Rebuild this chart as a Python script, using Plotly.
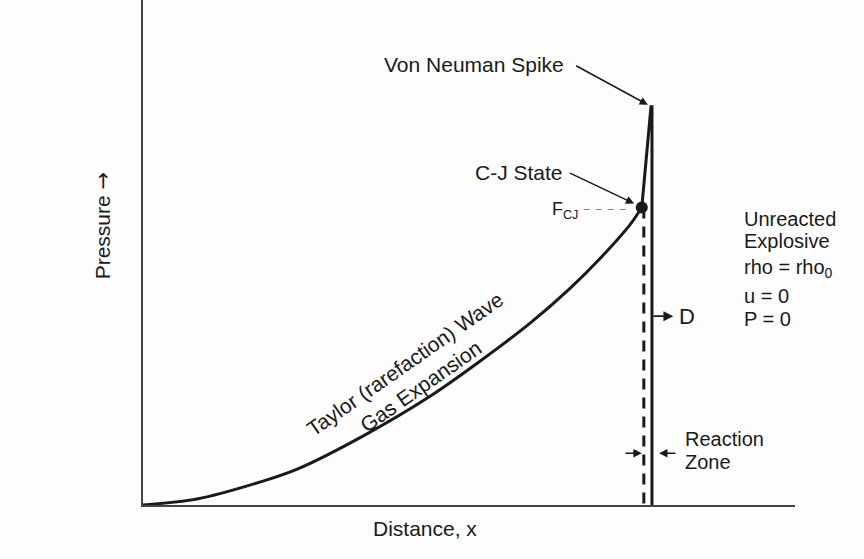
import plotly.graph_objects as go

# Taylor wave pressure profile behind the detonation front (distance, pressure)
taylor_x = [0.0, 10.6, 23.6, 30.3, 43.2, 56.4, 66.2, 76.0, 83.9, 89.8, 95.7, 98.0]
taylor_p = [0.0, 1.5, 6.0, 9.0, 17.3, 27.3, 36.1, 45.6, 54.4, 61.9, 70.4, 74.7]

# C-J state, von Neumann spike and the shock front
cj_x, cj_p = 98.0, 74.7
spike_x, spike_p = 99.8, 100.0
front_x = 100.0
reaction_end_x = 98.4

X_RANGE = [0, 128.1]
Y_RANGE = [0, 126.8]

FONT = "Liberation Sans, Arial, sans-serif"
INK = "#1a1a1a"

fig = go.Figure()

# Taylor (rarefaction) wave
fig.add_trace(go.Scatter(
    x=taylor_x, y=taylor_p, mode="lines",
    line=dict(color=INK, width=3, shape="spline", smoothing=0.8),
    hoverinfo="skip", showlegend=False))

# spike up from C-J point and the shock front back down to zero
fig.add_trace(go.Scatter(
    x=[cj_x, spike_x, front_x, front_x], y=[cj_p, spike_p, spike_p, 0],
    mode="lines", line=dict(color=INK, width=3),
    hoverinfo="skip", showlegend=False))

# end of reaction zone (dashed)
fig.add_trace(go.Scatter(
    x=[reaction_end_x, reaction_end_x], y=[cj_p, 0], mode="lines",
    line=dict(color=INK, width=3, dash="11px,8px"),
    hoverinfo="skip", showlegend=False))

# C-J state marker
fig.add_trace(go.Scatter(
    x=[cj_x], y=[cj_p], mode="markers",
    marker=dict(color=INK, size=12),
    hoverinfo="skip", showlegend=False))

# P_CJ leader line
fig.add_trace(go.Scatter(
    x=[86.6, 95.7], y=[74.2, 74.2], mode="lines",
    line=dict(color="#888888", width=1, dash="6px,6px"),
    hoverinfo="skip", showlegend=False))

ann = []


def text(x, y, s, size=21, xanchor="center", **kw):
    ann.append(dict(x=x, y=y, xref="x", yref="y", text=s, showarrow=False,
                    xanchor=xanchor, yanchor="middle",
                    font=dict(family=FONT, size=size, color=INK), **kw))


def arrow(x0, y0, x1, y1, width=1.5, size=1.1):
    ann.append(dict(x=x1, y=y1, ax=x0, ay=y0, xref="x", yref="y",
                    axref="x", ayref="y", text="", showarrow=True,
                    arrowhead=2, arrowsize=size, arrowwidth=width,
                    arrowcolor=INK))


text(65.0, 110.5, "Von Neuman Spike")
arrow(84.8, 110.5, 99.2, 100.5)

text(73.9, 83.5, "C-J State")
arrow(83.6, 83.5, 96.5, 75.7)

text(83.0, 73.9, "F<sub>CJ</sub>", size=18)

for yv, s in [(71.7, "Unreacted"), (66.2, "Explosive"),
              (59.4, "rho = rho<sub>0</sub>"), (52.6, "u = 0"), (46.6, "P = 0")]:
    text(117.7, yv, s, size=20, xanchor="left")

arrow(100.0, 47.4, 104.2, 47.4, width=1.8)
text(105.0, 47.4, "D", size=22, xanchor="left")

text(106.1, 16.5, "Reaction", size=20, xanchor="left")
text(106.1, 10.8, "Zone", size=20, xanchor="left")
arrow(94.5, 13.0, 98.0, 13.0, width=1.4, size=1.2)
arrow(104.9, 13.0, 101.4, 13.0, width=1.4, size=1.2)

text(53.0, 32.6, "Taylor (rarefaction) Wave<br>Gas Expansion", size=21,
     textangle=-35)

# axis titles
ann.append(dict(x=-0.062, y=0.553, xref="paper", yref="paper",
                xanchor="center", yanchor="middle",
                text="Pressure <span style=\"font-family:DejaVu Sans\">\u2192</span>",
                textangle=-90, showarrow=False,
                font=dict(family=FONT, size=21, color=INK)))
ann.append(dict(x=0.433, y=-0.047, xref="paper", yref="paper",
                xanchor="center", yanchor="middle",
                text="Distance, x", showarrow=False,
                font=dict(family=FONT, size=21, color=INK)))

axis_common = dict(showgrid=False, zeroline=False, showticklabels=False,
                   ticks="", showline=True, linecolor="#444444", linewidth=2)

fig.update_layout(
    width=864, height=559,
    margin=dict(l=143, r=69, t=0, b=54),
    paper_bgcolor="#fdfdfd", plot_bgcolor="#fdfdfd",
    xaxis=dict(range=X_RANGE, **axis_common),
    yaxis=dict(range=Y_RANGE, **axis_common),
    annotations=ann,
)

fig.write_html("out.html")
